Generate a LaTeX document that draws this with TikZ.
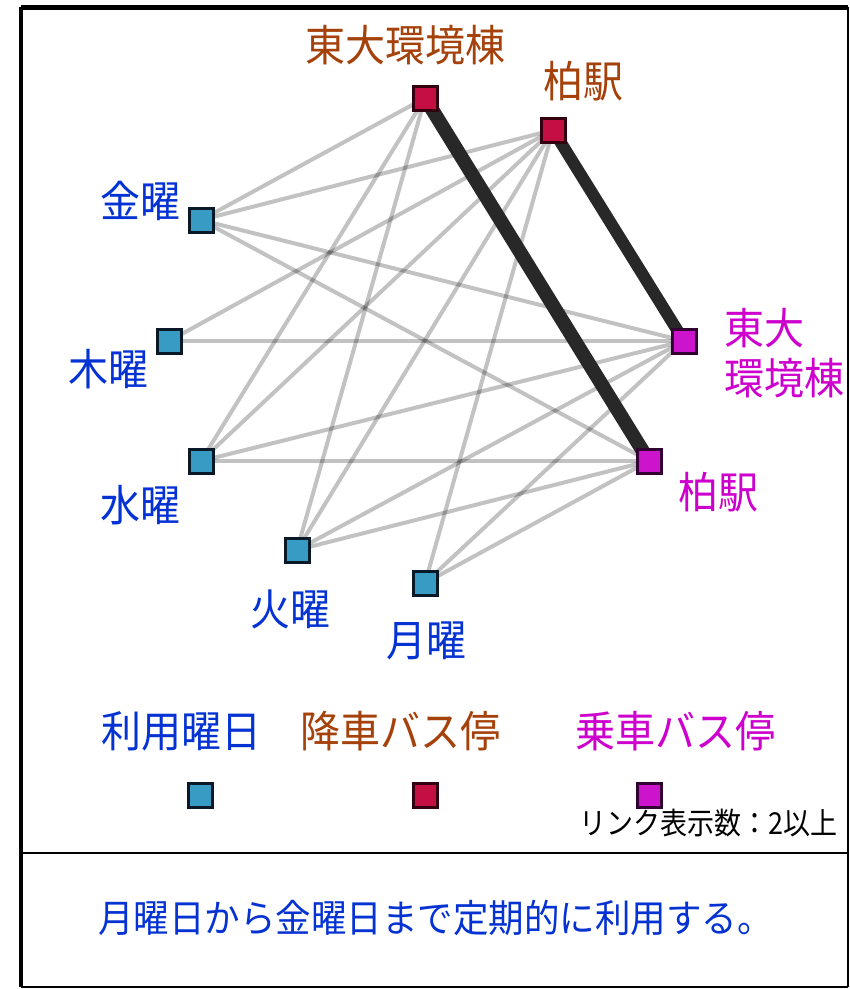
\documentclass[tikz,border=0pt]{standalone}
\usepackage{fontspec}
\newfontfamily\jp{Noto Sans CJK JP}
\newcommand{\tallt}[1]{\scalebox{1}[1.08]{#1}}
\definecolor{txtblue}{RGB}{5,50,210}
\definecolor{txtbrown}{RGB}{165,65,10}
\definecolor{txtmag}{RGB}{205,0,205}
\definecolor{daycol}{RGB}{55,155,195}
\definecolor{dropcol}{RGB}{195,15,65}
\definecolor{boardcol}{RGB}{205,20,205}
\definecolor{dayedge}{RGB}{10,25,40}
\definecolor{dropedge}{RGB}{50,0,15}
\definecolor{boardedge}{RGB}{50,0,50}
\definecolor{strongcol}{RGB}{40,40,40}
\pgfdeclarelayer{bg}
\pgfsetlayers{bg,main}
\begin{document}
\begin{tikzpicture}[x=1pt,y=-1pt,
  sq/.style={line width=3pt,minimum width=24pt,minimum height=24pt,inner sep=0pt},
  daysq/.style={sq,draw=dayedge,fill=daycol},
  dropsq/.style={sq,draw=dropedge,fill=dropcol},
  boardsq/.style={sq,draw=boardedge,fill=boardcol},
  lbl/.style={font=\jp\fontsize{40}{50}\selectfont,inner sep=0pt},
  daylbl/.style={lbl,text=txtblue},
  droplbl/.style={lbl,text=txtbrown},
  boardlbl/.style={lbl,text=txtmag},
  lnk/.style={line width=4pt,draw=black,draw opacity=0.24},
  strong/.style={draw=strongcol}]
\useasboundingbox (0,0) rectangle (850,989);
\begin{pgfonlayer}{bg}
\fill[white] (0,0) rectangle (850,989);
\end{pgfonlayer}
% frame
\draw[line width=5pt] (21,7) -- (848,7);
\draw[line width=4pt] (21,7) -- (21,987);
\draw[line width=2.5pt] (848,7) -- (848,987);
\draw[line width=2.5pt] (21,987) -- (848,987);
\draw[line width=2.5pt] (21,853) -- (848,853);
% nodes
\node[dropsq] (dT) at (425,98) {};
\node[dropsq] (dK) at (553,130) {};
\node[daysq] (fri) at (201,220) {};
\node[daysq] (thu) at (169,341) {};
\node[daysq] (wed) at (201,461) {};
\node[daysq] (tue) at (297,550) {};
\node[daysq] (mon) at (425,583) {};
\node[boardsq] (bT) at (684,341) {};
\node[boardsq] (bK) at (649,461) {};
% labels
\node[droplbl] (ldT) at (405,45) {\tallt{東大環境棟}};
\node[droplbl] (ldK) at (583,81) {\tallt{柏駅}};
\node[daylbl] (lfri) at (140,201) {\tallt{金曜}};
\node[daylbl] (lthu) at (108,369) {\tallt{木曜}};
\node[daylbl] (lwed) at (140,505) {\tallt{水曜}};
\node[daylbl] (ltue) at (290,609) {\tallt{火曜}};
\node[daylbl] (lmon) at (426,641) {\tallt{月曜}};
\node[boardlbl,align=left,anchor=north west] (lbT) at (724,308) {\tallt{東大}\\\tallt{環境棟}};
\node[boardlbl] (lbK) at (718,492) {\tallt{柏駅}};
% legend
\node[daylbl] (leg1) at (181,731) {\tallt{利用曜日}};
\node[droplbl] (leg2) at (400,731) {\tallt{降車バス停}};
\node[boardlbl] (leg3) at (675,731) {\tallt{乗車バス停}};
\node[daysq] (lsq1) at (200,795) {};
\node[dropsq] (lsq2) at (425,795) {};
\node[boardsq] (lsq3) at (649,795) {};
\node[font=\jp\fontsize{27}{30}\selectfont,inner sep=0pt,anchor=east] (note) at (838,823) {\scalebox{1}[1.12]{リンク表示数：2以上}};
\node[font=\jp\fontsize{35.5}{40}\selectfont,inner sep=0pt,text=txtblue,anchor=west] (cap) at (98,918) {\tallt{月曜日から金曜日まで定期的に利用する。}};
% links
\begin{pgfonlayer}{bg}
\foreach \d in {fri,wed,tue}{
  \foreach \s in {dT,dK,bT,bK}{
    \draw[lnk] (\d.center) -- (\s.center);
  }
}
\draw[lnk] (thu.center) -- (dK.center);
\draw[lnk] (thu.center) -- (bT.center);
\draw[lnk] (mon.center) -- (dK.center);
\draw[lnk] (mon.center) -- (bT.center);
\draw[lnk] (mon.center) -- (bK.center);
\draw[strong,line width=14pt] (dT.center) -- (bK.center);
\draw[strong,line width=12pt] (dK.center) -- (bT.center);
\end{pgfonlayer}
\end{tikzpicture}
\end{document}
